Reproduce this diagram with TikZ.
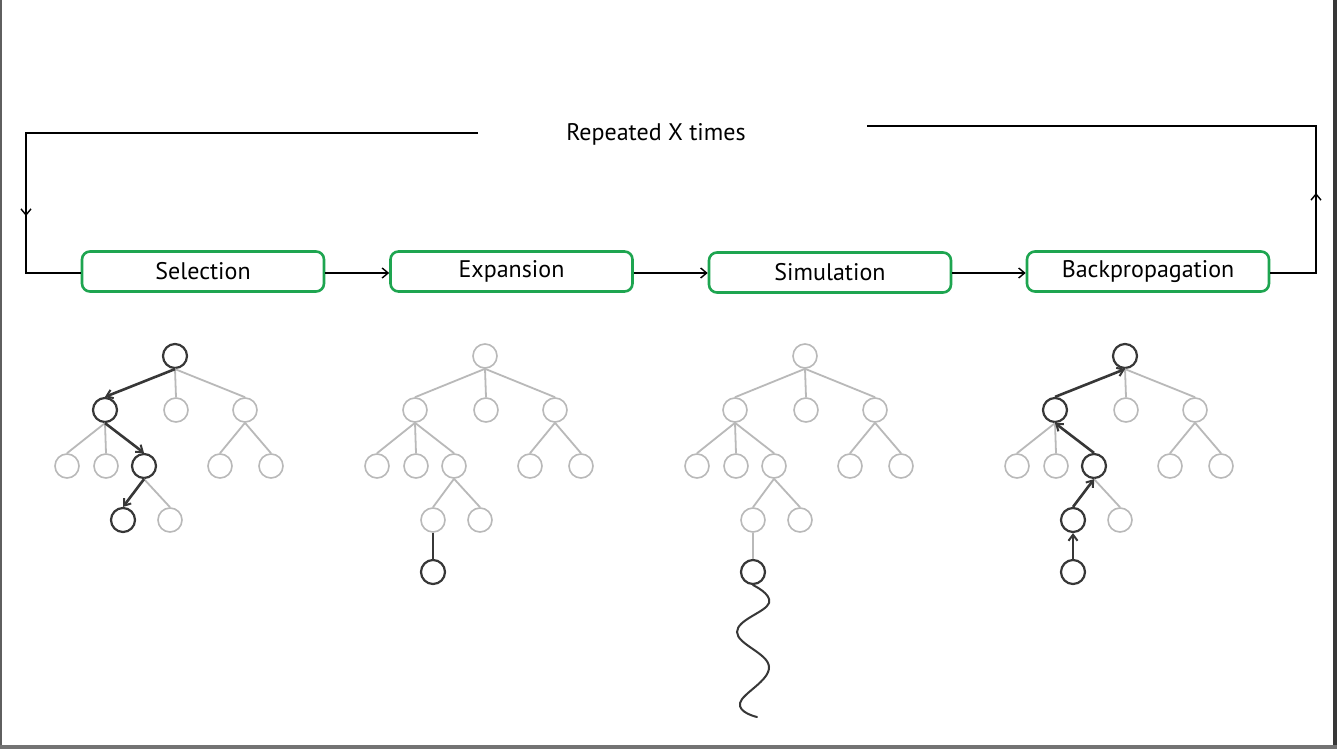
\documentclass[tikz,border=0pt]{standalone}
\usepackage{fontspec}
\setmainfont{PT Sans}
\usetikzlibrary{arrows.meta}
\definecolor{boxgreen}{RGB}{30,165,80}
\definecolor{lightg}{RGB}{185,185,185}
\definecolor{darkg}{RGB}{55,55,55}
\begin{document}
\begin{tikzpicture}[x=1pt,y=-1pt,
  stagebox/.style={draw=boxgreen,line width=2.6pt,rounded corners=8pt,minimum width=242pt,minimum height=40pt,inner sep=0pt,font=\fontsize{24}{28}\selectfont},
  flow/.style={line width=1.4pt,-{Straight Barb[length=6pt,width=10pt,line width=1.4pt]}},
  loopline/.style={line width=1.4pt},
  tn/.style={circle,draw=lightg,line width=1.6pt,minimum size=24pt,inner sep=0pt},
  hn/.style={circle,draw=darkg,line width=2.2pt,minimum size=24pt,inner sep=0pt},
  te/.style={draw=lightg,line width=1.8pt},
  he/.style={draw=darkg,line width=2.6pt},
  ha/.style={draw=darkg,line width=2.6pt,-{Straight Barb[length=6pt,width=9pt,line width=2pt]}},
  lbl/.style={font=\fontsize{24}{28}\selectfont,inner sep=0pt}
]
\useasboundingbox (0,0) rectangle (1337,749);
\fill[white] (0,0) rectangle (1337,749);
% screenshot frame
\fill[darkg!80] (0,0) rectangle (1.5,745);
\fill[darkg] (1333,0) rectangle (1337,749);
\fill[darkg!70] (0,745) rectangle (1337,749);

% stages
\node[stagebox] (sel) at (203,271.5) {\raisebox{2pt}{Selection}};
\node[stagebox] (exp) at (511.5,271.5) {\raisebox{1pt}{Expansion}};
\node[stagebox] (sim) at (830,272.5) {Simulation};
\node[stagebox] (bak) at (1148,271.5) {Backpropagation};
\draw[flow] (sel.east |- 0,273) -- (exp.west |- 0,273);
\draw[flow] (exp.east |- 0,273) -- (sim.west |- 0,273);
\draw[flow] (sim.east |- 0,273) -- (bak.west |- 0,273);

% loop
\node[lbl] (rep) at (656,134) {Repeated X times};
\coordinate (lt) at (478,133);
\coordinate (lc) at (26,133);
\coordinate (lm) at (26,216);
\coordinate (lb) at (26,273);
\coordinate (rt) at (867,126);
\coordinate (rc) at (1316,126);
\coordinate (rm) at (1316,193);
\coordinate (rb) at (1316,273);
\draw[loopline] (lt) -- (lc) -- (lb) -- (sel.west |- lb);
\draw[flow] (lc) -- (lm);
\draw[loopline] (bak.east |- rb) -- (rb) -- (rc) -- (rt);
\draw[flow] (rb) -- (rm);

% ---------- Selection tree
\node[hn] (a0) at (175,356) {};
\node[hn] (a1) at (105,410) {};
\node[tn] (a2) at (176,410) {};
\node[tn] (a3) at (245,410) {};
\node[tn] (a4) at (67,466) {};
\node[tn] (a5) at (106,466) {};
\node[hn] (a6) at (144,466) {};
\node[tn] (a7) at (220,466) {};
\node[tn] (a8) at (271,466) {};
\node[hn] (a9) at (123,520) {};
\node[tn] (a10) at (170,520) {};
\draw[te] (a0.south) -- (a2.north);
\draw[te] (a0.south) -- (a3.north);
\draw[te] (a1.south) -- (a4.north);
\draw[te] (a1.south) -- (a5.north);
\draw[te] (a3.south) -- (a7.north);
\draw[te] (a3.south) -- (a8.north);
\draw[te] (a6.south) -- (a10.north);
\draw[ha] (a0.south) -- (a1.north);
\draw[ha] (a1.south) -- (a6.north);
\draw[ha] (a6.south) -- (a9.north);

% ---------- Expansion tree
\node[tn] (b0) at (485,356) {};
\node[tn] (b1) at (415,410) {};
\node[tn] (b2) at (486,410) {};
\node[tn] (b3) at (555,410) {};
\node[tn] (b4) at (377,466) {};
\node[tn] (b5) at (416,466) {};
\node[tn] (b6) at (454,466) {};
\node[tn] (b7) at (530,466) {};
\node[tn] (b8) at (581,466) {};
\node[tn] (b9) at (433,520) {};
\node[tn] (b10) at (480,520) {};
\node[hn] (b11) at (433,572) {};
\draw[te] (b0.south) -- (b1.north);
\draw[te] (b0.south) -- (b2.north);
\draw[te] (b0.south) -- (b3.north);
\draw[te] (b1.south) -- (b4.north);
\draw[te] (b1.south) -- (b5.north);
\draw[te] (b1.south) -- (b6.north);
\draw[te] (b3.south) -- (b7.north);
\draw[te] (b3.south) -- (b8.north);
\draw[te] (b6.south) -- (b9.north);
\draw[te] (b6.south) -- (b10.north);
\draw[he] (b9.south) -- (b11.north);

% ---------- Simulation tree
\node[tn] (c0) at (805,356) {};
\node[tn] (c1) at (735,410) {};
\node[tn] (c2) at (806,410) {};
\node[tn] (c3) at (875,410) {};
\node[tn] (c4) at (697,466) {};
\node[tn] (c5) at (736,466) {};
\node[tn] (c6) at (774,466) {};
\node[tn] (c7) at (850,466) {};
\node[tn] (c8) at (901,466) {};
\node[tn] (c9) at (753,520) {};
\node[tn] (c10) at (800,520) {};
\node[hn] (c11) at (753,572) {};
\draw[te] (c0.south) -- (c1.north);
\draw[te] (c0.south) -- (c2.north);
\draw[te] (c0.south) -- (c3.north);
\draw[te] (c1.south) -- (c4.north);
\draw[te] (c1.south) -- (c5.north);
\draw[te] (c1.south) -- (c6.north);
\draw[te] (c3.south) -- (c7.north);
\draw[te] (c3.south) -- (c8.north);
\draw[te] (c6.south) -- (c9.north);
\draw[te] (c6.south) -- (c10.north);
\draw[te] (c9.south) -- (c11.north);
\draw[darkg,line width=2pt,line cap=round] plot[smooth,tension=0.7] coordinates
  {(c11.south) (769,603) (737,632) (769,667) (740,703) (757,717)};

% ---------- Backpropagation tree
\node[hn] (d0) at (1125,356) {};
\node[hn] (d1) at (1055,410) {};
\node[tn] (d2) at (1126,410) {};
\node[tn] (d3) at (1195,410) {};
\node[tn] (d4) at (1017,466) {};
\node[tn] (d5) at (1056,466) {};
\node[hn] (d6) at (1094,466) {};
\node[tn] (d7) at (1170,466) {};
\node[tn] (d8) at (1221,466) {};
\node[hn] (d9) at (1073,520) {};
\node[tn] (d10) at (1120,520) {};
\node[hn] (d11) at (1073,572) {};
\draw[te] (d0.south) -- (d2.north);
\draw[te] (d0.south) -- (d3.north);
\draw[te] (d1.south) -- (d4.north);
\draw[te] (d1.south) -- (d5.north);
\draw[te] (d3.south) -- (d7.north);
\draw[te] (d3.south) -- (d8.north);
\draw[te] (d6.south) -- (d10.north);
\draw[ha] (d11.north) -- (d9.south);
\draw[ha] (d9.north) -- (d6.south);
\draw[ha] (d6.north) -- (d1.south);
\draw[ha] (d1.north) -- (d0.south);
\end{tikzpicture}
\end{document}
